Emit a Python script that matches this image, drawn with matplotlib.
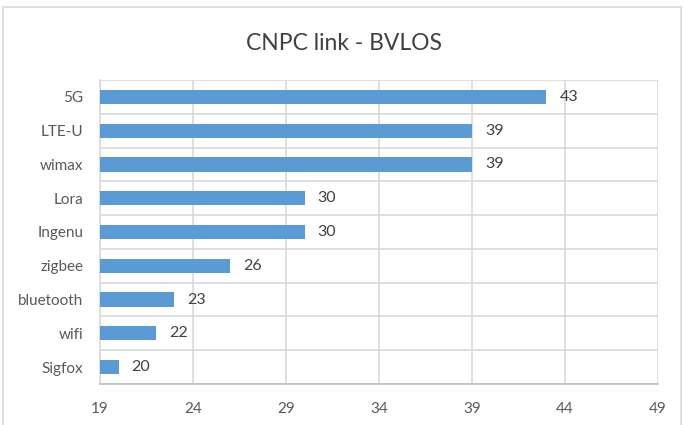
import matplotlib.pyplot as plt
from matplotlib.patches import Rectangle

categories = ["Sigfox", "wifi", "bluetooth", "zigbee", "Ingenu", "Lora", "wimax", "LTE-U", "5G"]
values = [20, 22, 23, 26, 30, 30, 39, 39, 43]
xticks = [19, 24, 29, 34, 39, 44, 49]

plt.rcParams['font.family'] = ['Lato', 'DejaVu Sans']

fig = plt.figure(figsize=(6.84, 4.25), dpi=100)
# outer chart border
fig.patches.append(Rectangle((3/684, -0.05), 678/684, (425-7)/425 + 0.05,
                             transform=fig.transFigure, fill=False,
                             edgecolor='#d9d9d9', linewidth=1.2))
ax = fig.add_axes([100/684, (425-384)/425, 558/684, 304/425])

y = range(len(categories))
ax.barh(y, values, height=0.42, color='#5b9bd5', left=0, zorder=3)
for i, v in enumerate(values):
    ax.text(v + 0.7, i, str(v), va='center', ha='left', fontsize=11.5, color='#404040')

ax.set_xlim(19, 49)
ax.set_ylim(-0.5, len(categories) - 0.5)
ax.set_xticks(xticks)
ax.set_yticks(list(y))
ax.set_yticklabels(categories)
ax.set_yticks([i + 0.5 for i in range(-1, len(categories))], minor=True)
ax.grid(axis='x', color='#d9d9d9', linewidth=1.2, zorder=0)
ax.grid(axis='y', which='minor', color='#d9d9d9', linewidth=1.2, zorder=0)
ax.tick_params(axis='both', which='both', length=0, labelsize=11, colors='#595959')
ax.tick_params(axis='x', pad=13)
ax.tick_params(axis='y', pad=12)
for s in ['top', 'right']:
    ax.spines[s].set_visible(False)
ax.spines['left'].set_color('#d9d9d9')
ax.spines['bottom'].set_color('#bfbfbf')
ax.spines['left'].set_linewidth(1.2)
ax.spines['bottom'].set_linewidth(1.2)

fig.text(344/684, (425-44)/425, "CNPC link - BVLOS", ha='center', va='center',
         fontsize=16.5, color='#404040')

plt.savefig("out.png", dpi=100)
